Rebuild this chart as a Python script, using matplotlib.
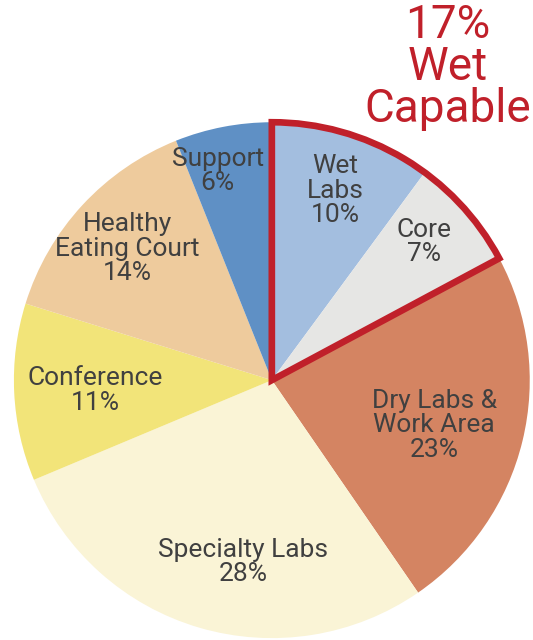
import matplotlib.pyplot as plt
from matplotlib.patches import Wedge
from matplotlib import font_manager

names = ["Wet\nLabs", "Core", "Dry Labs &\nWork Area", "Specialty Labs",
         "Conference", "Healthy\nEating Court", "Support"]
shares = [10, 7, 23, 28, 11, 14, 6]
colors = ["#a3bedf", "#e6e6e4", "#d48462", "#faf4d6",
          "#f2e479", "#eecb9d", "#5f90c5"]
# label centres in data units (pie radius = 1)
label_pos = [(0.245, 0.735), (0.59, 0.535), (0.63, -0.175), (-0.11, -0.705),
             (-0.685, -0.04), (-0.56, 0.51), (-0.21, 0.81)]

avail = {f.name for f in font_manager.fontManager.ttflist}
fam = "Liberation Sans Narrow" if "Liberation Sans Narrow" in avail else "Roboto"

fig = plt.figure(figsize=(5.33, 6.4), dpi=100)
ax = fig.add_axes([0.026, 0.003, 0.968, 0.806])
wedges, _ = ax.pie(shares, colors=colors, startangle=90, counterclock=False,
                   radius=1.0, wedgeprops=dict(linewidth=0))
ax.set_xlim(-1, 1)
ax.set_ylim(-1, 1)
ax.set_aspect("equal")
ax.axis("off")

for (x, y), n, s in zip(label_pos, names, shares):
    ax.text(x, y, f"{n}\n{s}%", ha="center", va="center", fontsize=19,
            color="#404040", family=fam, linespacing=1.02)

# red outline around the wet-capable part (Wet Labs + Core)
t1 = wedges[1].theta1
t2 = wedges[0].theta2
ax.add_patch(Wedge((0, 0), 1.0, t1, t2, fill=False, edgecolor="#c0202a",
                   linewidth=4.8, joinstyle="miter", clip_on=False))

fig.text(448 / 533, 1 - 67 / 640, f"{shares[0] + shares[1]}%\nWet\nCapable",
         ha="center", va="center", fontsize=33, color="#c0202a",
         family=fam, linespacing=0.95)

fig.savefig("out.png", dpi=100)
